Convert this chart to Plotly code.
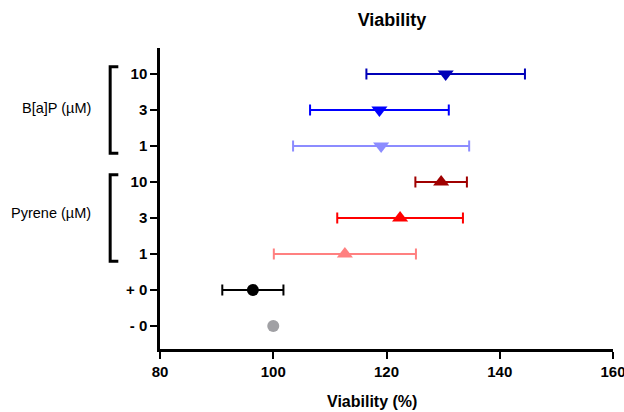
import plotly.graph_objects as go

# Viability per treatment (mean ± SD), listed top to bottom
tick_labels = ["10", "3", "1", "10", "3", "1", "+ 0", "- 0"]
viability_mean = [130.45, 118.75, 119.05, 129.65, 122.4, 112.65, 96.4, 100.0]
viability_sd = [14.0, 12.25, 15.55, 4.55, 11.1, 12.55, 5.4, 0.0]
group_names = ["B[a]P (µM)", "Pyrene (µM)"]
group_rows = [[0, 1, 2], [3, 4, 5]]
x_ticks = [80, 100, 120, 140, 160]

colors = ["#0000B8", "#0000FF", "#8C8CFF", "#A00000", "#FF0000", "#FF8080", "#000000", "#A0A0A4"]
symbols = ["triangle-down"] * 3 + ["triangle-up"] * 3 + ["circle", "circle"]
sizes = [14] * 6 + [12, 12]

FONT = "Liberation Sans, Arial, sans-serif"
n = len(tick_labels)
ypos = [n - 1 - i for i in range(n)]

fig = go.Figure()
for i in range(n):
    fig.add_trace(go.Scatter(
        x=[viability_mean[i]], y=[ypos[i]],
        mode="markers",
        marker=dict(symbol=symbols[i], size=sizes[i], color=colors[i], line=dict(width=0)),
        error_x=dict(type="data", array=[viability_sd[i]], visible=viability_sd[i] > 0,
                     color=colors[i], thickness=2, width=5.5),
        showlegend=False, cliponaxis=False,
    ))

# group brackets and labels to the left of the tick labels
bx0, bx1 = -0.110, -0.092
for name, rows in zip(group_names, group_rows):
    top = ypos[rows[0]] + 0.2
    bot = ypos[rows[-1]] - 0.2
    fig.add_shape(type="path", xref="paper", yref="y",
                  path=f"M {bx1},{top} L {bx0},{top} L {bx0},{bot} L {bx1},{bot}",
                  line=dict(color="black", width=3))
    mid = ypos[rows[1]]
    fig.add_annotation(text=name, xref="paper", yref="y", x=-0.148, y=mid + (0.05 if rows[0] == 0 else 0.15),
                       xanchor="right", yanchor="middle", showarrow=False,
                       font=dict(family=FONT, size=14.5, color="black"))

fig.add_annotation(text="<b>Viability (%)</b>", xref="paper", yref="paper", x=0.468, y=-0.176,
                   xanchor="center", yanchor="middle", showarrow=False,
                   font=dict(family=FONT, size=16, color="black"))

fig.update_layout(
    width=624, height=412,
    margin=dict(l=160, r=11, t=48, b=63, autoexpand=False),
    paper_bgcolor="white", plot_bgcolor="white",
    title=dict(text="<b>Viability</b>", x=392 / 624, xref="container", xanchor="center",
               y=1 - 20 / 412, yref="container", yanchor="middle",
               font=dict(family=FONT, size=18, color="black")),
    xaxis=dict(range=[80, 160], tickvals=x_ticks, ticktext=[str(v) for v in x_ticks],
               showgrid=False, zeroline=False, showline=True, linecolor="black", linewidth=2.5,
               ticks="outside", ticklen=7, tickwidth=2, tickcolor="black",
               ticklabeloverflow="allow", automargin=False,
               tickfont=dict(family=FONT, size=15, color="black", weight="bold")),
    yaxis=dict(range=[-0.64, 7.72], tickvals=ypos, ticktext=tick_labels,
               showgrid=False, zeroline=False, showline=True, linecolor="black", linewidth=2.5,
               ticks="outside", ticklen=7, tickwidth=2, tickcolor="black", automargin=False,
               tickfont=dict(family=FONT, size=15, color="black", weight="bold")),
)

fig.write_html("out.html")
